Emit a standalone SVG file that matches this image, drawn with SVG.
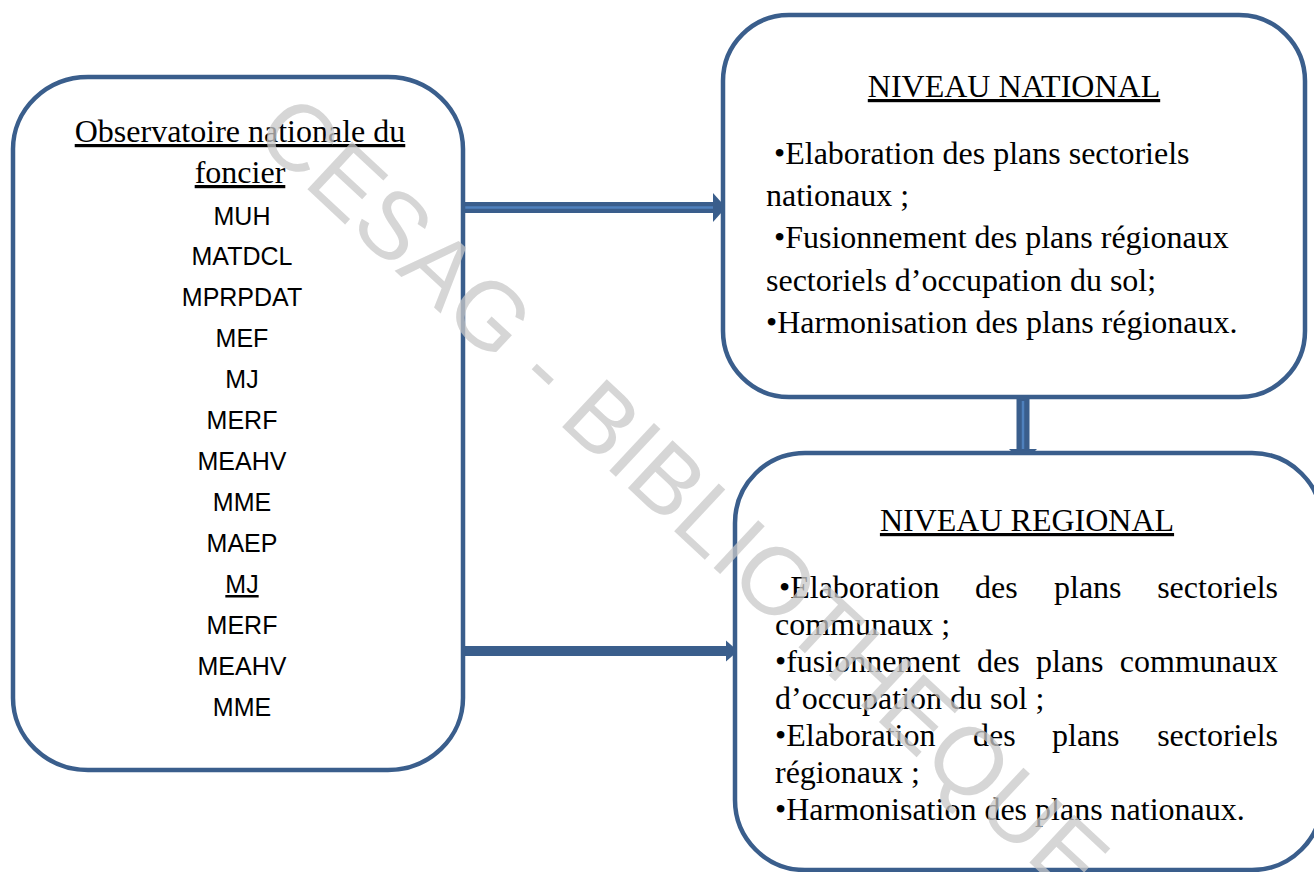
<svg xmlns="http://www.w3.org/2000/svg" width="1314" height="872" viewBox="0 0 1314 872">
<style>
.box{fill:#ffffff;stroke:#3a5e8c;stroke-width:4.5}
.serif{font-family:"Liberation Serif","Times New Roman",serif;font-size:32px;fill:#000}
.sans{font-family:"Liberation Sans",Arial,sans-serif;font-size:25px;fill:#000;text-anchor:middle}
.u{text-decoration:underline}
.mid{text-anchor:middle}
.end{text-anchor:end}
.shaft{fill:#3a5e8c}
.hl{stroke:#4f81bd;stroke-width:2.5}
.wm{font-family:"Liberation Sans",Arial,sans-serif;font-size:95px;fill:#c8c8c8;fill-opacity:0.75;text-anchor:middle}
</style>
<rect width="1314" height="872" fill="#ffffff"/>
<g id="connectors">
<rect class="shaft" x="463" y="202" width="252" height="11"/>
<line class="hl" x1="463" y1="207.5" x2="716" y2="207.5"/>
<polygon class="shaft" points="713,193 726,207.5 713,222"/>
<rect class="shaft" x="463" y="646" width="265" height="10"/>
<polygon class="shaft" points="726,640.5 738,651 726,661.5"/>
<rect class="shaft" x="1016.5" y="397" width="13" height="54"/>
<line class="hl" x1="1023" y1="401" x2="1023" y2="455"/>
<polygon class="shaft" points="1009,449 1037,449 1023,463"/>
</g>
<g id="node-observatoire">
<rect class="box" x="13" y="77" width="450" height="693" rx="75" ry="72"/>
<text class="serif mid u" x="240" y="142">Observatoire nationale du</text>
<text class="serif mid u" x="240" y="183">foncier</text>
<text class="sans" x="242" y="225">MUH</text>
<text class="sans" x="242" y="265">MATDCL</text>
<text class="sans" x="242" y="306">MPRPDAT</text>
<text class="sans" x="242" y="347">MEF</text>
<text class="sans" x="242" y="388">MJ</text>
<text class="sans" x="242" y="429">MERF</text>
<text class="sans" x="242" y="470">MEAHV</text>
<text class="sans" x="242" y="511">MME</text>
<text class="sans" x="242" y="552">MAEP</text>
<text class="sans u" x="242" y="593">MJ</text>
<text class="sans" x="242" y="634">MERF</text>
<text class="sans" x="242" y="675">MEAHV</text>
<text class="sans" x="242" y="716">MME</text>
</g>
<g id="node-national">
<rect class="box" x="723" y="15" width="582" height="382" rx="66" ry="66"/>
<text class="serif mid u" x="1014" y="97">NIVEAU NATIONAL</text>
<text class="serif" x="774" y="164">•Elaboration des plans sectoriels</text>
<text class="serif" x="766" y="206">nationaux ;</text>
<text class="serif" x="774" y="248">•Fusionnement des plans régionaux</text>
<text class="serif" x="766" y="291">sectoriels d’occupation du sol;</text>
<text class="serif" x="766" y="333">•Harmonisation des plans régionaux.</text>
</g>
<g id="node-regional">
<rect class="box" x="735" y="453" width="587" height="417" rx="70" ry="70"/>
<text class="serif mid u" x="1027" y="531">NIVEAU REGIONAL</text>
<text class="serif" x="779" y="598">•Elaboration</text>
<text class="serif" x="975" y="598">des</text>
<text class="serif" x="1054" y="598">plans</text>
<text class="serif end" x="1278" y="598">sectoriels</text>
<text class="serif" x="775" y="635">communaux ;</text>
<text class="serif" x="775" y="672">•fusionnement</text>
<text class="serif" x="977" y="672">des</text>
<text class="serif" x="1036" y="672">plans</text>
<text class="serif end" x="1278" y="672">communaux</text>
<text class="serif" x="775" y="709">d’occupation du sol ;</text>
<text class="serif" x="775" y="746">•Elaboration</text>
<text class="serif" x="973" y="746">des</text>
<text class="serif" x="1052" y="746">plans</text>
<text class="serif end" x="1278" y="746">sectoriels</text>
<text class="serif" x="775" y="783">régionaux ;</text>
<text class="serif" x="775" y="820">•Harmonisation des plans nationaux.</text>
</g>
<g id="watermark">
<text class="wm" transform="translate(684,494) rotate(43)" y="34">CESAG - BIBLIOTHEQUE</text>
</g>
</svg>
